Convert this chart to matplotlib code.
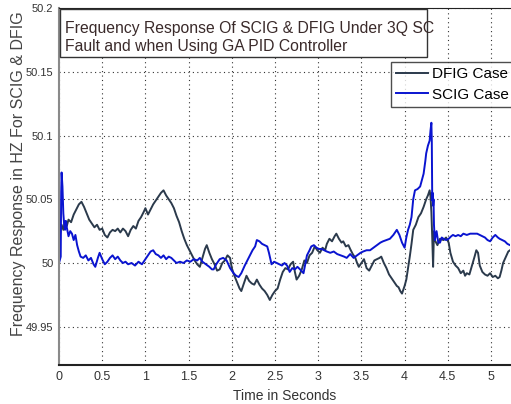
import matplotlib
matplotlib.use("Agg")
import matplotlib.pyplot as plt
from matplotlib.patches import Rectangle

dfig_t = [0.00,0.01,0.03,0.05,0.07,0.09,0.11,0.14,0.17,0.20,0.23,0.26,0.29,0.32,0.35,0.38,0.41,0.44,0.47,0.50,
          0.53,0.56,0.59,0.62,0.65,0.68,0.71,0.74,0.77,0.80,0.83,0.86,0.89,0.92,0.95,0.98,1.00,1.03,1.06,1.09,
          1.12,1.15,1.18,1.21,1.24,1.27,1.30,1.33,1.36,1.39,1.42,1.45,1.48,1.51,1.54,1.57,1.60,1.63,1.66,1.69,
          1.71,1.74,1.77,1.80,1.83,1.86,1.89,1.92,1.95,1.98,2.00,2.03,2.06,2.09,2.11,2.14,2.17,2.20,2.23,2.26,
          2.29,2.32,2.35,2.38,2.41,2.44,2.47,2.50,2.53,2.56,2.59,2.62,2.65,2.68,2.71,2.73,2.75,2.78,2.81,2.84,
          2.87,2.90,2.93,2.96,2.99,3.02,3.05,3.08,3.10,3.13,3.16,3.19,3.21,3.24,3.27,3.29,3.32,3.35,3.37,3.40,
          3.43,3.45,3.47,3.50,3.53,3.56,3.59,3.62,3.65,3.68,3.71,3.73,3.76,3.79,3.82,3.85,3.88,3.91,3.93,3.95,
          3.97,4.00,4.02,4.04,4.06,4.08,4.10,4.13,4.16,4.19,4.22,4.25,4.27,4.29,4.30,4.31,4.32,4.33,4.34,4.35,
          4.38,4.41,4.45,4.48,4.51,4.53,4.56,4.59,4.62,4.65,4.68,4.70,4.72,4.75,4.78,4.81,4.83,4.85,4.87,4.90,
          4.93,4.96,4.99,5.02,5.05,5.08,5.10,5.12,5.14,5.16,5.18,5.20,5.22]
dfig_f = [50.000,50.022,50.030,50.026,50.033,50.029,50.034,50.032,50.038,50.042,50.046,50.048,50.044,50.039,50.034,50.031,50.028,50.030,50.026,50.027,
          50.022,50.020,50.024,50.026,50.025,50.027,50.024,50.027,50.025,50.021,50.026,50.029,50.027,50.033,50.036,50.040,50.043,50.038,50.042,50.046,
          50.049,50.052,50.055,50.057,50.053,50.050,50.047,50.043,50.037,50.032,50.025,50.019,50.014,50.010,50.006,50.002,49.999,49.997,50.004,50.011,
          50.014,50.008,50.003,49.999,49.994,49.995,50.000,50.002,50.006,50.004,49.996,49.990,49.985,49.980,49.978,49.984,49.990,49.986,49.984,49.983,
          49.987,49.983,49.980,49.978,49.975,49.971,49.975,49.978,49.980,49.987,49.993,49.996,49.995,49.999,50.001,49.993,49.987,49.990,49.995,50.002,
          50.000,50.006,50.008,50.013,50.010,50.008,50.012,50.010,50.015,50.019,50.017,50.021,50.023,50.019,50.016,50.017,50.013,50.014,50.011,50.007,
          50.004,50.000,49.997,50.000,50.003,49.996,49.994,49.998,50.002,50.003,50.004,50.005,50.000,49.996,49.991,49.988,49.985,49.982,49.981,49.978,
          49.976,49.982,49.987,49.996,50.005,50.015,50.026,50.030,50.036,50.039,50.044,50.050,50.053,50.057,50.052,50.040,50.020,49.997,50.025,50.018,
          50.014,50.019,50.018,50.020,50.016,50.008,50.001,49.998,49.996,49.992,49.994,49.990,49.992,49.991,49.998,50.005,50.010,50.008,49.998,49.993,
          49.991,49.990,49.992,49.989,49.990,49.988,49.989,49.994,50.000,50.003,50.006,50.009,50.010]

scig_t = [0.00,0.02,0.025,0.03,0.04,0.05,0.06,0.07,0.08,0.09,0.11,0.13,0.15,0.17,0.19,0.21,0.23,0.25,0.28,0.31,
          0.34,0.37,0.40,0.42,0.45,0.47,0.50,0.53,0.56,0.59,0.62,0.65,0.68,0.71,0.74,0.77,0.80,0.84,0.88,0.92,
          0.96,1.00,1.03,1.06,1.09,1.12,1.15,1.18,1.21,1.24,1.27,1.30,1.33,1.36,1.40,1.44,1.48,1.52,1.56,1.60,
          1.63,1.66,1.70,1.74,1.77,1.79,1.82,1.86,1.90,1.94,1.98,2.02,2.05,2.08,2.11,2.15,2.18,2.21,2.24,2.27,
          2.29,2.32,2.35,2.38,2.41,2.43,2.46,2.49,2.52,2.55,2.58,2.61,2.64,2.67,2.70,2.73,2.76,2.79,2.83,2.85,
          2.87,2.90,2.92,2.95,2.98,3.01,3.04,3.07,3.10,3.14,3.18,3.22,3.26,3.30,3.33,3.37,3.41,3.45,3.49,3.52,
          3.56,3.60,3.64,3.68,3.72,3.75,3.79,3.83,3.87,3.91,3.94,3.97,4.00,4.02,4.04,4.06,4.08,4.10,4.12,4.15,
          4.18,4.20,4.22,4.24,4.25,4.27,4.29,4.30,4.31,4.315,4.32,4.325,4.33,4.335,4.34,4.35,4.37,4.39,4.41,4.43,
          4.45,4.48,4.51,4.54,4.56,4.59,4.62,4.65,4.68,4.72,4.76,4.80,4.84,4.87,4.90,4.93,4.96,4.99,5.02,5.05,
          5.08,5.10,5.13,5.16,5.19,5.22]
scig_f = [50.000,50.005,50.055,50.071,50.060,50.039,50.030,50.026,50.033,50.028,50.021,50.025,50.023,50.018,50.022,50.014,50.009,50.005,50.004,50.006,
          50.002,50.004,49.999,49.997,50.004,50.008,50.003,49.999,50.001,50.004,50.006,50.003,50.005,50.002,50.000,50.001,49.999,50.000,49.998,50.001,
          49.999,50.003,50.006,50.009,50.010,50.007,50.006,50.004,50.006,50.003,50.005,50.004,50.002,50.000,50.001,50.000,50.002,50.001,50.003,50.002,
          50.004,50.001,49.999,49.997,49.995,49.995,49.999,50.003,50.004,50.002,49.996,49.992,49.990,49.989,49.992,49.998,50.002,50.006,50.010,50.013,
          50.018,50.017,50.015,50.014,50.013,50.008,49.999,50.001,50.000,49.999,49.998,50.000,49.998,49.993,49.996,49.995,49.997,49.995,49.992,49.999,
          50.006,50.010,50.013,50.014,50.012,50.011,50.011,50.010,50.009,50.008,50.009,50.007,50.006,50.005,50.004,50.007,50.004,50.006,50.008,50.009,
          50.010,50.010,50.012,50.014,50.016,50.017,50.018,50.019,50.022,50.026,50.022,50.016,50.012,50.020,50.026,50.030,50.036,50.050,50.057,50.058,
          50.060,50.065,50.070,50.080,50.086,50.092,50.096,50.104,50.110,50.095,50.049,50.055,50.045,50.050,50.030,50.018,50.025,50.016,50.016,50.020,
          50.019,50.018,50.019,50.021,50.022,50.021,50.022,50.021,50.023,50.022,50.023,50.023,50.023,50.022,50.021,50.020,50.018,50.017,50.020,50.022,
          50.020,50.019,50.018,50.017,50.015,50.014]

x_ticks = [0, 0.5, 1, 1.5, 2, 2.5, 3, 3.5, 4, 4.5, 5]
x_tick_labels = ["0", "0.5", "1", "1.5", "2", "2.5", "3", "3.5", "4", "4.5", "5"]
y_ticks = [49.95, 50, 50.05, 50.1, 50.15, 50.2]
y_tick_labels = ["49.95", "50", "50.05", "50.1", "50.15", "50.2"]

plt.rcParams["font.family"] = ["Liberation Sans", "DejaVu Sans"]

fig = plt.figure(figsize=(5.11, 4.04), dpi=100)
ax = fig.add_axes([59/511, 39/404, 451/511, 357/404])

ax.plot(dfig_t, dfig_f, color="#2b3a4c", lw=1.4, label="DFIG Case")
ax.plot(scig_t, scig_f, color="#0a14d0", lw=1.4, label="SCIG Case")

ax.set_xlim(0, 5.22)
ax.set_ylim(49.92, 50.2)
ax.set_xticks(x_ticks)
ax.set_xticklabels(x_tick_labels, fontsize=9, color="#333333")
ax.set_yticks(y_ticks)
ax.set_yticklabels(y_tick_labels, fontsize=8, color="#333333")
ax.tick_params(length=0, pad=4)
ax.grid(True, linestyle=(0, (1, 3)), color="#333333", lw=0.8)

ax.spines["left"].set_color("#8a8a8a")
ax.spines["left"].set_linewidth(1.5)
ax.spines["bottom"].set_color("#222222")
ax.spines["bottom"].set_linewidth(1.5)
ax.spines["top"].set_color("#222222")
ax.spines["right"].set_visible(False)

ax.set_xlabel("Time in Seconds", fontsize=10, color="#333333", labelpad=5)
ax.set_ylabel("Frequency Response in HZ For SCIG & DFIG", fontsize=11.5, color="#444444", labelpad=2)
ax.yaxis.set_label_coords(-0.074, 0.535)

ax.add_patch(Rectangle((0.002, 0.862), 0.814, 0.135, transform=ax.transAxes,
                       facecolor="white", edgecolor="#333333", lw=1.0, zorder=5))
ax.text(0.013, 0.918, "Frequency Response Of SCIG & DFIG Under 3Q SC\nFault and when Using GA PID Controller",
        transform=ax.transAxes, fontsize=11.3, color="#3a2a2a",
        va="center", ha="left", linespacing=1.25, zorder=6)

leg = ax.legend(loc="upper right", bbox_to_anchor=(1.01, 0.85), borderaxespad=0,
                fontsize=11, frameon=True, fancybox=False, handlelength=2.1,
                handletextpad=0.25, borderpad=0.35, labelspacing=0.45)
leg.get_frame().set_edgecolor("#222222")
leg.get_frame().set_linewidth(1.0)

fig.savefig("out.png", dpi=100)
